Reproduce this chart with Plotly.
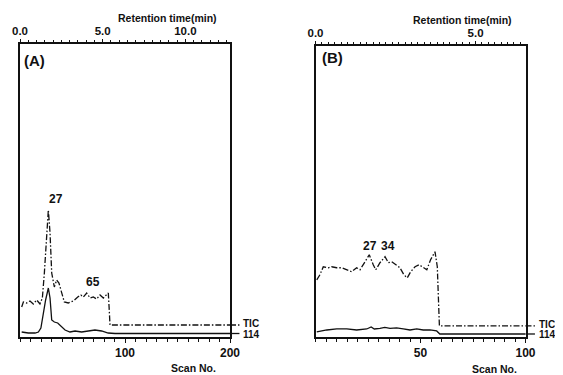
import plotly.graph_objects as go

# ---------------- data ----------------
# Panel A : scan number vs. intensity (arbitrary units)
scan_A_tic = [1.6, 3.2, 6.3, 9.5, 12.7, 15.9, 19, 21.3, 23.2, 25.4, 27, 28.6, 30.2, 32.7, 34.9,
              37.1, 39.7, 42.2, 46, 50.8, 55, 58, 60.3, 63.5, 66.7, 69.8, 73, 76.2, 79.4, 82.5,
              84.1, 85, 85.7, 120, 160, 200]
tic_A = [30, 35, 34, 36, 33, 37, 33, 39, 64, 107, 127, 104, 64, 50, 57,
         54, 44, 35, 34, 36, 40, 42, 40, 44, 39, 40, 38, 42, 39, 42,
         44, 27, 12, 12, 12, 12]
scan_A_114 = [1.6, 7.9, 14.3, 17.5, 19.9, 22.2, 24.4, 27, 28.6, 30.2, 32.7, 35.9, 39.7, 42.9,
              47.6, 52.4, 58.7, 65, 71.4, 77.7, 84, 90.5, 130, 170, 200]
ion114_A = [5, 4, 4, 5, 9, 24, 37, 49, 39, 17, 15, 14, 10, 7,
            5, 6, 5, 6, 7, 6, 4, 3.5, 3.5, 3.5, 3.5]

# Panel B
scan_B_tic = [0.6, 2.1, 3.7, 6.1, 7.7, 10.1, 12.5, 14.9, 17.2, 19.6, 21.2, 23.6, 25.6, 27.5,
              28.7, 30.7, 33.1, 34.7, 36.3, 38.3, 40.2, 42.1, 43.7, 45.3, 47.4, 49.4, 51.3,
              53, 54.8, 56.9, 58, 58.5, 59, 80, 100]
tic_B = [57, 62, 70, 69, 70, 69, 69, 67, 65, 69, 67, 75, 82, 72,
         67, 74, 80, 74, 75, 72, 69, 62, 59, 65, 70, 72, 69,
         67, 77, 85, 70, 35, 11, 11, 11]
scan_B_114 = [0.6, 5.4, 10.1, 14.9, 19.6, 24.4, 26.5, 28, 30.7, 33, 35.5, 38.6, 41.8, 45,
              48.2, 51.3, 54.5, 57.7, 59.2, 80, 100]
ion114_B = [5, 7, 8, 8, 7, 8, 10, 8, 8.5, 9.5, 8.5, 9, 8, 7,
            8, 7, 7, 6, 3, 3, 3]

# axis extents and tick labels
scan_range_A = [0, 200]
scan_range_B = [0, 100]
rt_range_A = [0, 12.7]
rt_range_B = [0, 6.56]
scan_ticks_A = [100, 200]
scan_ticks_B = [50, 100]
rt_ticks_A = [0, 5, 10]
rt_ticks_B = [0, 5]

# peak labels
peaks_A = [("27", 27, 127), ("65", 62, 44)]
peaks_B = [("27", 26, 80), ("34", 34.3, 80)]

# ---------------- figure ----------------
FONT = "Liberation Sans"
W, H = 563, 375
OFF = 8  # page offset of the figure in the browser
ink = "#111111"


def px_x(p):
    return (p - OFF) / W


def px_y(p):
    return 1 - (p - OFF) / H


fig = go.Figure()
tic_line = dict(color=ink, width=1.3, dash="6px,2px,1.5px,2px")
ion_line = dict(color=ink, width=1.3)

fig.add_trace(go.Scatter(x=scan_A_tic, y=tic_A, mode="lines", line=tic_line, xaxis="x", yaxis="y"))
fig.add_trace(go.Scatter(x=scan_A_114, y=ion114_A, mode="lines", line=ion_line, xaxis="x", yaxis="y"))
fig.add_trace(go.Scatter(x=scan_B_tic, y=tic_B, mode="lines", line=tic_line, xaxis="x2", yaxis="y2"))
fig.add_trace(go.Scatter(x=scan_B_114, y=ion114_B, mode="lines", line=ion_line, xaxis="x2", yaxis="y2"))
# invisible carriers so the retention-time (top) axes are drawn
fig.add_trace(go.Scatter(x=rt_range_A, y=[-50, -50], mode="lines", line=dict(width=0),
                         xaxis="x3", yaxis="y", hoverinfo="skip"))
fig.add_trace(go.Scatter(x=rt_range_B, y=[-50, -50], mode="lines", line=dict(width=0),
                         xaxis="x4", yaxis="y2", hoverinfo="skip"))

domA = [px_x(20), px_x(230)]
domB = [px_x(315.5), px_x(525.5)]
ydomA = [px_y(337), px_y(44)]
ydomB = [px_y(337), px_y(46)]

tickfont = dict(family=FONT, size=12, color=ink, weight="bold")
topfont = dict(family=FONT, size=11.5, color=ink, weight="bold")
axis_common = dict(showline=True, linecolor=ink, linewidth=1.6, showgrid=False, zeroline=False,
                   ticks="outside", tickcolor=ink, tickwidth=1.2, fixedrange=True, automargin=False)
yaxis_common = dict(showline=True, mirror=True, linecolor=ink, linewidth=1.8, showticklabels=False,
                    ticks="", showgrid=False, zeroline=False, fixedrange=True, automargin=False)

fig.update_layout(
    width=W, height=H, margin=dict(l=0, r=0, t=0, b=0, autoexpand=False),
    paper_bgcolor="white", plot_bgcolor="white", showlegend=False,
    xaxis=dict(domain=domA, anchor="y", range=scan_range_A, tickvals=scan_ticks_A, ticklen=4,
               tickfont=tickfont, minor=dict(tickvals=list(range(0, 201, 10)), ticklen=3,
                                             ticks="outside", tickcolor=ink), **axis_common),
    xaxis3=dict(overlaying="x", side="top", anchor="y", range=rt_range_A, tickvals=rt_ticks_A,
                ticktext=[f"{v:.1f}" for v in rt_ticks_A], ticklen=3, tickfont=topfont,
                minor=dict(tickvals=[i * 0.5 for i in range(26)], ticklen=2.5, ticks="outside", tickcolor=ink),
                **axis_common),
    yaxis=dict(domain=ydomA, anchor="x", range=[0, 293], **yaxis_common),
    xaxis2=dict(domain=domB, anchor="y2", range=scan_range_B, tickvals=scan_ticks_B, ticklen=4,
                tickfont=tickfont, minor=dict(tickvals=list(range(0, 101, 5)), ticklen=3,
                                              ticks="outside", tickcolor=ink), **axis_common),
    xaxis4=dict(overlaying="x2", side="top", anchor="y2", range=rt_range_B, tickvals=rt_ticks_B,
                ticktext=[f"{v:.1f}" for v in rt_ticks_B], ticklen=3, tickfont=topfont,
                minor=dict(tickvals=[round(i * 0.2, 2) for i in range(33)], ticklen=2.5, ticks="outside", tickcolor=ink),
                **axis_common),
    yaxis2=dict(domain=ydomB, anchor="x2", range=[0, 290], **yaxis_common),
)

ann = []
lbl = dict(family=FONT, size=10.5, color=ink, weight="bold")
# axis titles
for txt, xp, yp in [("Retention time(min)", 167, 18), ("Retention time(min)", 462, 20),
                    ("Scan No.", 193, 368), ("Scan No.", 494, 369)]:
    ann.append(dict(text=txt, x=px_x(xp), y=px_y(yp), xref="paper", yref="paper",
                    xanchor="center", yanchor="middle", showarrow=False, font=lbl))
# panel letters
pfont = dict(family=FONT, size=15, color=ink, weight="bold")
ann.append(dict(text="(A)", x=px_x(22), y=px_y(61), xref="paper", yref="paper", xanchor="left",
                yanchor="middle", showarrow=False, font=pfont))
ann.append(dict(text="(B)", x=px_x(320), y=px_y(58), xref="paper", yref="paper", xanchor="left",
                yanchor="middle", showarrow=False, font=pfont))
# peak labels
nfont = dict(family=FONT, size=12, color=ink, weight="bold")
for t, xv, yv in peaks_A:
    ann.append(dict(text=t, x=xv, y=yv, xref="x", yref="y", xanchor="left", yanchor="bottom",
                    showarrow=False, font=nfont, xshift=-1, yshift=2))
for t, xv, yv in peaks_B:
    ann.append(dict(text=t, x=xv, y=yv, xref="x2", yref="y2", xanchor="center", yanchor="bottom",
                    showarrow=False, font=nfont, yshift=2))
# trace labels on the right
sfont = dict(family=FONT, size=10, color=ink, weight="bold")
for xr, yr, xpos, tv, iv in [("x domain", "y", 1.05, tic_A[-1], ion114_A[-1]),
                             ("x2 domain", "y2", 1.055, tic_B[-1], ion114_B[-1])]:
    ann.append(dict(text="TIC", x=xpos, y=tv, xref=xr, yref=yr, xanchor="left",
                    yanchor="bottom", yshift=-6, showarrow=False, font=sfont))
    ann.append(dict(text="114", x=xpos, y=iv, xref=xr, yref=yr, xanchor="left",
                    yanchor="top", yshift=7, showarrow=False, font=sfont))
fig.update_layout(annotations=ann)

shapes = []
for xr, yr, tv, iv in [("x domain", "y", tic_A[-1], ion114_A[-1]), ("x2 domain", "y2", tic_B[-1], ion114_B[-1])]:
    shapes.append(dict(type="line", xref=xr, yref=yr, x0=1.0, x1=1.045, y0=tv, y1=tv,
                       line=dict(color=ink, width=1.3, dash="6px,2px,1.5px,2px")))
    shapes.append(dict(type="line", xref=xr, yref=yr, x0=1.0, x1=1.045, y0=iv, y1=iv,
                       line=dict(color=ink, width=1.3)))
fig.update_layout(shapes=shapes)

fig.write_html("out.html")
